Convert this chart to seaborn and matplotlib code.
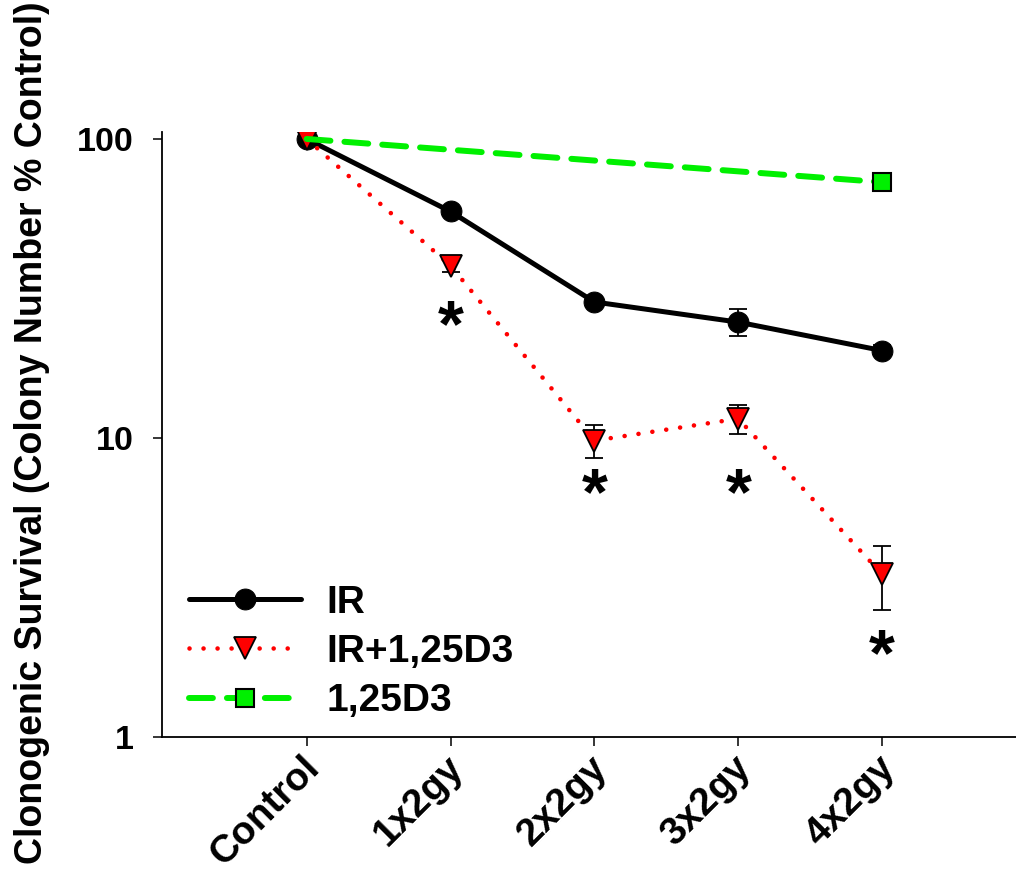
import matplotlib
matplotlib.use("Agg")
import matplotlib.pyplot as plt
import matplotlib.transforms as mtransforms
import seaborn as sns

# data
doses = ["Control", "1x2gy", "2x2gy", "3x2gy", "4x2gy"]
ir_mean = [100, 57.2, 28.5, 24.4, 19.6]
ir_err = [0, 2.0, 1.0, 2.5, 0.8]
ird3_mean = [100, 37.7, 9.8, 11.6, 3.5]
ird3_err = [0, 1.7, 1.25, 1.25, 0.85]
d3_doses = ["Control", "4x2gy"]
d3_mean = [100, 71.7]
star_doses = ["1x2gy", "2x2gy", "3x2gy", "4x2gy"]
star_y = [26.2, 7.16, 7.16, 2.08]

pos = {d: i for i, d in enumerate(doses)}
x_all = [pos[d] for d in doses]
x_d3 = [pos[d] for d in d3_doses]

sns.set_style("ticks", {"axes.edgecolor": "black", "text.color": "black",
                        "axes.labelcolor": "black", "xtick.color": "black",
                        "ytick.color": "black"})
plt.rcParams["font.family"] = ["Liberation Sans", "DejaVu Sans"]
plt.rcParams["font.weight"] = "bold"

fig = plt.figure(figsize=(10.16, 8.73), dpi=100)
ax = fig.add_axes([162 / 1016, 1 - 737 / 873, 1 - 162 / 1016, (737 - 132) / 873])

ebkw = dict(fmt="none", ecolor="black", elinewidth=1.3, capsize=6.5, capthick=1.3)

# IR
ax.errorbar(x_all, ir_mean, yerr=ir_err, zorder=2, **ebkw)
sns.lineplot(x=x_all, y=ir_mean, ax=ax, color="black", lw=3.6, marker="o",
             markersize=15, markerfacecolor="black", markeredgecolor="black",
             label="IR", zorder=3)

# IR + 1,25D3
ax.errorbar(x_all, ird3_mean, yerr=ird3_err, zorder=4, **ebkw)
sns.lineplot(x=x_all, y=ird3_mean, ax=ax, color="#ff0000", lw=3.3,
             linestyle=(0, (0.01, 3.05)), dash_capstyle="round",
             marker="v", markersize=16, markerfacecolor="#ff0000",
             markeredgecolor="black", markeredgewidth=1.3,
             label="IR+1,25D3", zorder=5)

# 1,25D3
sns.lineplot(x=x_d3, y=d3_mean, ax=ax, color="#00f000", lw=4.3,
             linestyle=(0, (4.0, 2.35)), dash_capstyle="round",
             marker="s", markersize=13, markevery=[1], markerfacecolor="#00f000",
             markeredgecolor="black", markeredgewidth=1.5,
             label="1,25D3", zorder=6)

# significance marks
for d, y in zip(star_doses, star_y):
    ax.annotate("*", xy=(pos[d], y), xytext=(0, -11.5), textcoords="offset points",
                ha="center", va="center", fontsize=48, fontweight="bold",
                color="black")

ax.set_yscale("log")
ax.set_ylim(1, 105.5)
ax.set_xlim(-1.005, 4.93)
ax.set_yticks([1, 10, 100])
ax.set_yticklabels(["1", "10", "100"])
ax.minorticks_off()
ax.set_xticks(x_all)
ax.set_xticklabels(doses, rotation=45, ha="right", va="baseline",
                   rotation_mode="anchor")

ax.tick_params(axis="y", direction="out", length=6.5, width=1.1, pad=14,
               labelsize=24.5, colors="black")
ax.tick_params(axis="x", direction="out", length=6.5, width=1.1, pad=17,
               labelsize=28, colors="black")
shift = mtransforms.ScaledTranslation(10.5 / 72, 0, fig.dpi_scale_trans)
for lab in ax.get_xticklabels():
    lab.set_transform(lab.get_transform() + shift)
for lab in ax.get_xticklabels() + ax.get_yticklabels():
    lab.set_fontweight("bold")

ax.spines["top"].set_visible(False)
ax.spines["right"].set_visible(False)
for s in ["left", "bottom"]:
    ax.spines[s].set_linewidth(1.3)
    ax.spines[s].set_color("black")

ax.set_xlabel("")
ax.set_ylabel("Clonogenic Survival (Colony Number % Control)", fontsize=27,
              fontweight="bold", color="black")
ax.yaxis.set_label_coords(-0.131, 0.503)

leg = ax.legend(loc="center left", bbox_to_anchor=(189 / 1016, 1 - 652 / 873),
                bbox_transform=fig.transFigure, frameon=False, borderpad=0,
                borderaxespad=0, handlelength=2.88, handletextpad=0.65,
                labelspacing=0.34, numpoints=1, prop={"size": 28, "weight": "bold"})
for t in leg.get_texts():
    t.set_color("black")

fig.savefig("out.png", dpi=100)
